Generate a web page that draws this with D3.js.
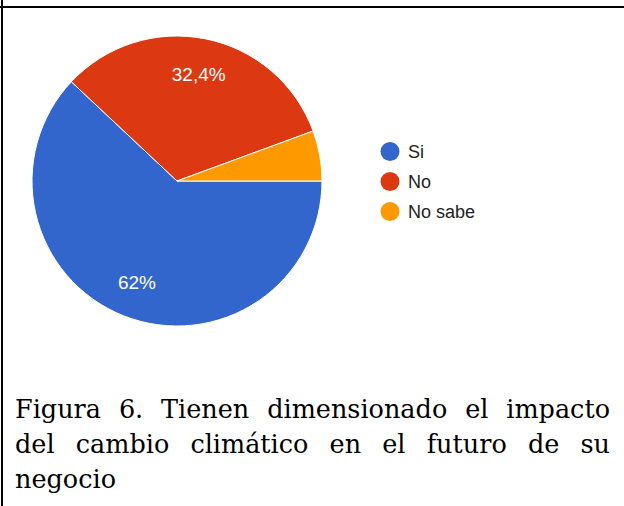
<!DOCTYPE html>
<html>
<head>
<meta charset="utf-8">
<script src="https://cdn.jsdelivr.net/npm/d3@7"></script>
<style>
  body { margin: 0; background: #fff; }
  svg { display: block; }
</style>
</head>
<body>
<script>
// Chart data
var categories = ["Si", "No", "No sabe"];
var values = [62, 32.4, 5.6];
var colors = ["#3366cc", "#dc3912", "#ff9900"];

// Caption, one entry per printed line (last line is not justified)
var captionLines = [
    "Figura 6. Tienen dimensionado el impacto",
    "del cambio climático en el futuro de su",
    "negocio"
];

var width = 624,
    height = 506;

var svg = d3.select("body").append("svg")
    .attr("width", width)
    .attr("height", height);

// Frame lines (top and left only)
svg.append("line")
    .attr("x1", 0).attr("x2", width)
    .attr("y1", 7).attr("y2", 7)
    .attr("stroke", "#000")
    .attr("stroke-width", 2);

svg.append("line")
    .attr("x1", 2).attr("x2", 2)
    .attr("y1", 0).attr("y2", height)
    .attr("stroke", "#000")
    .attr("stroke-width", 2);

// Pie
var cx = 177, cy = 181, radius = 145;

var pie = d3.pie()
    .sort(null)
    .startAngle(Math.PI / 2)
    .endAngle(Math.PI / 2 + 2 * Math.PI)
    .value(function(d) { return d; });

var arc = d3.arc().innerRadius(0).outerRadius(radius);
var labelArc = d3.arc().innerRadius(radius * 0.75).outerRadius(radius * 0.75);

var arcs = pie(values);
var total = d3.sum(values);

var pieG = svg.append("g")
    .attr("transform", "translate(" + cx + "," + cy + ")");

pieG.selectAll("path")
    .data(arcs)
    .enter()
    .append("path")
    .attr("d", arc)
    .attr("fill", function(d, i) { return colors[i]; })
    .attr("stroke", "#fff")
    .attr("stroke-width", 1);

// Percent labels, comma as decimal separator, small slices skipped
function pctText(v) {
    var p = Math.round(v / total * 1000) / 10;
    return String(p).replace(".", ",") + "%";
}

pieG.selectAll("text")
    .data(arcs.filter(function(d) { return d.value / total >= 0.1; }))
    .enter()
    .append("text")
    .attr("x", function(d) { return labelArc.centroid(d)[0]; })
    .attr("y", function(d) { return labelArc.centroid(d)[1]; })
    .attr("dy", "0.35em")
    .attr("text-anchor", "middle")
    .attr("fill", "#fff")
    .attr("font-family", "Arial, 'Liberation Sans', sans-serif")
    .attr("font-size", 19)
    .text(function(d) { return pctText(d.value); });

// Legend
var legendY = d3.scalePoint()
    .domain(categories)
    .range([151.5, 211.5]);

var legend = svg.append("g")
    .attr("transform", "translate(390,0)");

var items = legend.selectAll("g")
    .data(categories)
    .enter()
    .append("g")
    .attr("transform", function(d) { return "translate(0," + legendY(d) + ")"; });

items.append("circle")
    .attr("r", 9.5)
    .attr("fill", function(d, i) { return colors[i]; });

items.append("text")
    .attr("x", 18)
    .attr("dy", "0.36em")
    .attr("fill", "#222")
    .attr("font-family", "Arial, 'Liberation Sans', sans-serif")
    .attr("font-size", 18)
    .text(function(d) { return d; });

// Caption, justified by spreading the words across the line
var capLeft = 15, capRight = 610, capTop = 418, lineStep = 35;

var caption = svg.append("g")
    .attr("font-family", "'DejaVu Serif', serif")
    .attr("font-size", 25.5)
    .attr("fill", "#000");

captionLines.forEach(function(line, li) {
    var words = line.split(" ");
    var y = capTop + li * lineStep;
    var nodes = words.map(function(w) {
        return caption.append("text").attr("y", y).text(w);
    });
    var widths = nodes.map(function(n) { return n.node().getComputedTextLength(); });
    var last = li === captionLines.length - 1;
    var gap = (!last && words.length > 1)
        ? (capRight - capLeft - d3.sum(widths)) / (words.length - 1)
        : 7;
    var x = capLeft;
    nodes.forEach(function(n, i) {
        n.attr("x", x);
        x += widths[i] + gap;
    });
});
</script>
</body>
</html>
